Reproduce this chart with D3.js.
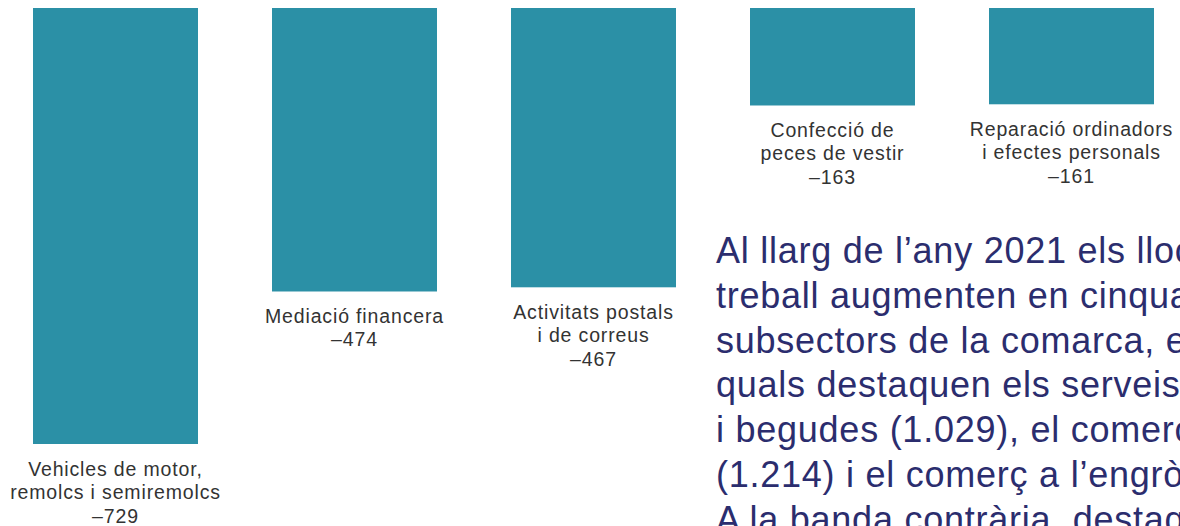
<!DOCTYPE html>
<html>
<head>
<meta charset="utf-8">
<script src="https://cdn.jsdelivr.net/npm/d3@7"></script>
<style>
  html, body { margin: 0; padding: 0; background: #fff; overflow: hidden; }
  svg { display: block; }
</style>
</head>
<body>
<script>
  var categories = [
    ['Vehicles de motor,', 'remolcs i semiremolcs'],
    ['Mediació financera'],
    ['Activitats postals', 'i de correus'],
    ['Confecció de', 'peces de vestir'],
    ['Reparació ordinadors', 'i efectes personals']
  ];
  var values = [-729, -474, -467, -163, -161];
  var textLines = [
    'Al llarg de l’any 2021 els llocs de',
    'treball augmenten en cinquanta',
    'subsectors de la comarca, entre els',
    'quals destaquen els serveis de menjars',
    'i begudes (1.029), el comerç al detall',
    '(1.214) i el comerç a l’engròs (722).',
    'A la banda contrària, destaquen'
  ];

  var width = 1180, height = 526;
  var svg = d3.select('body').append('svg').attr('width', width).attr('height', height);

  // 165px bars, 239px step
  var x = d3.scaleBand().domain(d3.range(values.length)).range([33, 1154]).paddingInner(74 / 239).paddingOuter(0);
  var y = d3.scaleLinear().domain([0, 729]).range([8, 444]);
  var fmt = function(v) { return '–' + Math.abs(v); };

  var g = svg.selectAll('g.bar').data(values).enter().append('g').attr('class', 'bar');

  g.append('rect')
    .attr('x', function(d, i) { return x(i); })
    .attr('y', y(0))
    .attr('width', x.bandwidth())
    .attr('height', function(d) { return y(Math.abs(d)) - y(0); })
    .attr('fill', '#2b90a6');

  var label = g.append('text')
    .attr('text-anchor', 'middle')
    .attr('font-family', '"Liberation Sans", Arial, sans-serif')
    .attr('font-size', 19.5)
    .attr('letter-spacing', 0.85)
    .attr('fill', '#333');

  label.each(function(d, i) {
    var t = d3.select(this);
    var lines = categories[i].concat([fmt(d)]);
    var cx = x(i) + x.bandwidth() / 2;
    lines.forEach(function(s, j) {
      t.append('tspan').attr('x', cx).attr('y', y(Math.abs(d)) + 31.5 + j * 23.5).text(s);
    });
  });

  svg.append('text')
    .attr('font-family', '"Liberation Sans", Arial, sans-serif')
    .attr('font-size', 36)
    .attr('letter-spacing', 0.75)
    .attr('fill', '#2b2d6e')
    .selectAll('tspan').data(textLines).enter().append('tspan')
    .attr('x', 716)
    .attr('y', function(d, i) { return 263 + i * 44.8; })
    .text(function(d) { return d; });
</script>
</body>
</html>
